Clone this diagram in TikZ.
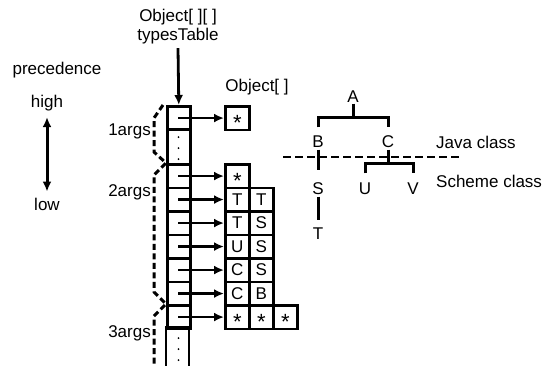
\documentclass[tikz,border=0pt]{standalone}
\usepackage{fontspec}
\setmainfont{Liberation Sans}
\usetikzlibrary{arrows.meta}
\newcommand{\astk}{\raisebox{-12.4pt}[0pt][0pt]{\fontsize{22}{22}\selectfont *}}
\begin{document}
\begin{tikzpicture}[x=1pt,y=-1pt,
  every node/.style={font=\fontsize{17}{17}\selectfont, inner sep=0pt},
  colcell/.style={draw, line width=2.6pt, minimum width=23pt, minimum height=23.5pt, anchor=north west},
  dotcell/.style={draw, line width=2.6pt, minimum width=23pt, minimum height=35pt, anchor=north west},
  objbox/.style={draw, line width=2.6pt, minimum width=24pt, minimum height=23.5pt, anchor=north west},
  ptr/.style={line width=2.8pt, -{Latex[length=10pt,width=9pt]}},
  brace/.style={line width=3pt, dash pattern=on 6pt off 3.5pt},
  treeline/.style={line width=3pt}
]
\useasboundingbox (0,0) rectangle (557,365);

% labels top
\node (objarr2) at (178,17) {Object[ ][ ]};
\node (types) at (178,36) {typesTable};
\node (objarr) at (257,87) {Object[ ]};

% precedence
\node (prec) at (57,70) {precedence};
\node (high) at (47,103) {high};
\node (low) at (47,204) {low};
\draw[line width=3pt, {Latex[length=10pt,width=9pt]}-{Latex[length=10pt,width=9pt]}] ([yshift=-6pt]high.south) -- ([yshift=6pt]low.north);

% column cells
\node[colcell] (c0) at (166,105) {};
\node[dotcell] (d1) at (166,128) {};
\node[colcell] (c1) at (166,163) {};
\node[colcell] (c2) at (166,186.5) {};
\node[colcell] (c3) at (166,210) {};
\node[colcell] (c4) at (166,233.5) {};
\node[colcell] (c5) at (166,257) {};
\node[colcell] (c6) at (166,280.5) {};
\node[colcell] (c7) at (166,304) {};
\coordinate (d2l) at (166,327.5);
\coordinate (d2r) at (189,327.5);
\coordinate (botl) at (166,366);
\coordinate (botr) at (189,366);
\draw[line width=2.6pt] (botl) -- (d2l) -- (d2r) -- (botr);

% dots
\foreach \yy in {137,148,159} \fill (178.5,\yy) circle (1pt);
\foreach \yy in {338,349,360} \fill (178.5,\yy) circle (1pt);

% typesTable arrow
\draw[ptr] ([yshift=-4pt]types.south) -- (c0.north);

% object boxes
\node[objbox] (b0) at (224,105) {\astk};
\node[objbox] (b1) at (224,163) {\astk};
\node[objbox] (b2a) at (224,186.5) {T};
\node[objbox] (b2b) at (248,186.5) {T};
\node[objbox] (b3a) at (224,210) {T};
\node[objbox] (b3b) at (248,210) {S};
\node[objbox] (b4a) at (224,233.5) {U};
\node[objbox] (b4b) at (248,233.5) {S};
\node[objbox] (b5a) at (224,257) {C};
\node[objbox] (b5b) at (248,257) {S};
\node[objbox] (b6a) at (224,280.5) {C};
\node[objbox] (b6b) at (248,280.5) {B};
\node[objbox] (b7a) at (224,304) {\astk};
\node[objbox] (b7b) at (248,304) {\astk};
\node[objbox] (b7c) at (272,304) {\astk};

% pointer arrows
\draw[ptr] ([xshift=-0.5pt]c0.center) -- (b0.west);
\draw[ptr] ([xshift=-0.5pt]c1.center) -- (b1.west);
\draw[ptr] ([xshift=-0.5pt]c2.center) -- (b2a.west);
\draw[ptr] ([xshift=-0.5pt]c3.center) -- (b3a.west);
\draw[ptr] ([xshift=-0.5pt]c4.center) -- (b4a.west);
\draw[ptr] ([xshift=-0.5pt]c5.center) -- (b5a.west);
\draw[ptr] ([xshift=-0.5pt]c6.center) -- (b6a.west);
\draw[ptr] ([xshift=-0.5pt]c7.center) -- (b7a.west);

% args labels
\node[anchor=east] (a1) at (151,131) {1args};
\node[anchor=east] (a2) at (151,192) {2args};
\node[anchor=east] (a3) at (151,333) {3args};

% braces
\coordinate (br0) at (163,105);
\coordinate (br1) at (166,163);
\coordinate (br2) at (166,304);
\coordinate (brE) at (154,366);
\draw[brace] (br0) -- (154,118) -- (154,152) -- (br1) -- (154,175) -- (154,292) -- (br2) -- (154,316) -- (brE);

% tree
\node (A) at (353,96.5) {A};
\node (B) at (318,141.5) {B};
\node (C) at (388,141.5) {C};
\node (S) at (318,188.5) {S};
\node (T) at (318,233.5) {T};
\node (U) at (365,188.5) {U};
\node (V) at (413,188.5) {V};
\coordinate (barAB) at (353,117);
\coordinate (barUV) at (388,163);
\draw[treeline] ([yshift=-1pt]A.south) -- (barAB);
\draw[treeline] ([yshift=8pt]B.north) -- (B.north |- barAB) -- (C.north |- barAB) -- ([yshift=8pt]C.north);
\draw[treeline] ([yshift=-2pt]B.south) -- ([yshift=12pt]S.north);
\draw[treeline] ([yshift=-2pt]S.south) -- ([yshift=7pt]T.north);
\draw[treeline] ([yshift=-2pt]C.south) -- (barUV);
\draw[treeline] ([yshift=9pt]U.north) -- (U.north |- barUV) -- (V.north |- barUV) -- ([yshift=9pt]V.north);

% class separator
\coordinate (sepL) at (283,157);
\coordinate (sepR) at (460,157);
\draw[line width=2.8pt, dash pattern=on 8pt off 4pt] (sepL) -- (sepR);
\node[anchor=west] (java) at (436,142) {Java class};
\node[anchor=west] (scheme) at (436,181) {Scheme class};
\end{tikzpicture}
\end{document}
